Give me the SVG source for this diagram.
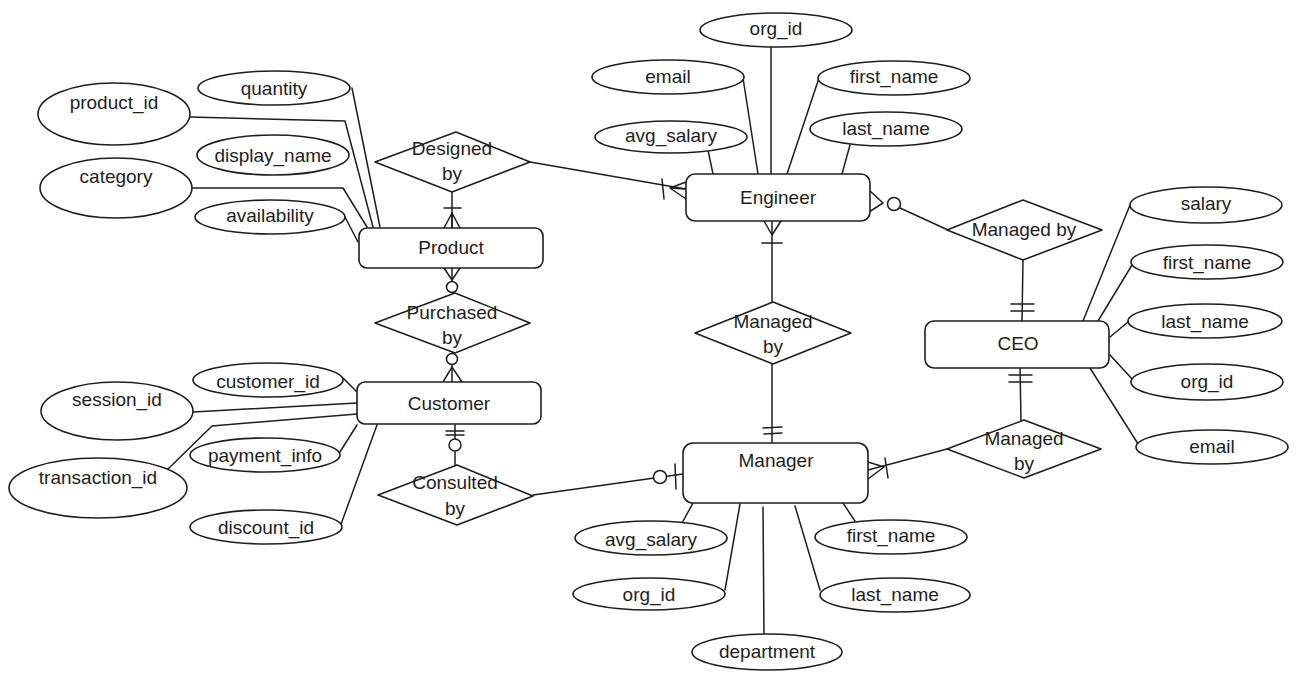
<svg xmlns="http://www.w3.org/2000/svg" width="1299" height="680" viewBox="0 0 1299 680">
<style>
.sh{fill:#fff;stroke:#1e1e1e;stroke-width:1.6;stroke-linejoin:round}
.ln{fill:none;stroke:#1e1e1e;stroke-width:1.5;stroke-linecap:round;stroke-linejoin:round}
.ci{fill:#fff;stroke:#1e1e1e;stroke-width:1.5}
text{font-family:"Liberation Sans",Arial,sans-serif;font-size:19px;fill:#1e1e1e;text-anchor:middle;dominant-baseline:central}
</style>
<rect width="1299" height="680" fill="#fff"/>
<g id="connectors">
<!-- attribute lines: Product -->
<path class="ln" d="M352,88 L380,227"/>
<path class="ln" d="M190,117 L345,121 L373,227"/>
<path class="ln" d="M192,188 L343,188 L367,227"/>
<path class="ln" d="M345,217 L358,242"/>
<!-- Engineer -->
<path class="ln" d="M771,47 L771,174"/>
<path class="ln" d="M743,78 L758,174"/>
<path class="ln" d="M820,75 L787,174"/>
<path class="ln" d="M708,150 L713,174"/>
<path class="ln" d="M850,145 L842,174"/>
<!-- Customer -->
<path class="ln" d="M343,378 L357,392"/>
<path class="ln" d="M193,412 L357,403"/>
<path class="ln" d="M167,470 L212,426 L357,414"/>
<path class="ln" d="M338,455 L357,425"/>
<path class="ln" d="M340,527 L377,425"/>
<!-- Manager -->
<path class="ln" d="M693,503 L682,523"/>
<path class="ln" d="M740,504 L725,590"/>
<path class="ln" d="M763,507 L764,635"/>
<path class="ln" d="M795,506 L820,590"/>
<path class="ln" d="M843,503 L855,521"/>
<!-- CEO -->
<path class="ln" d="M1130,205 L1083,321"/>
<path class="ln" d="M1132,265 L1098,321"/>
<path class="ln" d="M1128,322 L1110,337"/>
<path class="ln" d="M1110,355 L1133,380"/>
<path class="ln" d="M1090,368 L1140,447"/>

<!-- Designed by - Product -->
<path class="ln" d="M452,192 L452,228"/>
<path class="ln" d="M444,208 L461,208"/>
<path class="ln" d="M452,213 L444,228 M452,213 L452,228 M452,213 L460,228"/>
<!-- Designed by - Engineer -->
<path class="ln" d="M530,162 L686,189"/>
<path class="ln" d="M662,179 L664,199"/>
<path class="ln" d="M670,188 L686,182 M670,188 L686,189 M670,188 L686,199"/>
<!-- Product - Purchased by -->
<path class="ln" d="M452,268 L452,293"/>
<path class="ln" d="M444,268 L452,280 M460,268 L452,280"/>
<circle class="ci" cx="452" cy="287" r="5.5"/>
<!-- Purchased by - Customer -->
<path class="ln" d="M452,353 L452,382"/>
<circle class="ci" cx="452" cy="359" r="5.5"/>
<path class="ln" d="M452,367 L443,382 M452,367 L462,382"/>
<!-- Customer - Consulted by -->
<path class="ln" d="M455,425 L455,465"/>
<path class="ln" d="M446,431 L464,431 M446,435 L464,435"/>
<circle class="ci" cx="455" cy="445" r="6"/>
<!-- Consulted by - Manager -->
<path class="ln" d="M533,495 L683,474"/>
<circle class="ci" cx="660" cy="477" r="6.5"/>
<path class="ln" d="M675,464 L676,489"/>
<!-- Engineer - Managed by (middle) -->
<path class="ln" d="M772,221 L772,302"/>
<path class="ln" d="M764,221 L772,235 L781,221"/>
<path class="ln" d="M762,243 L782,243"/>
<!-- Managed by (middle) - Manager -->
<path class="ln" d="M772,364 L772,443"/>
<path class="ln" d="M763,428 L782,427 M764,434 L782,433"/>
<!-- Engineer - Managed by (right) -->
<path class="ln" d="M869,190 L883,203 L869,212"/>
<circle class="ci" cx="894" cy="204" r="6.5"/>
<path class="ln" d="M900,208 L948,230"/>
<!-- Managed by (right) - CEO -->
<path class="ln" d="M1023,259 L1022,321"/>
<path class="ln" d="M1011,304 L1034,304 M1011,311 L1034,311"/>
<!-- CEO - Managed by (lower) -->
<path class="ln" d="M1020,368 L1021,421"/>
<path class="ln" d="M1009,375 L1032,375 M1009,382 L1032,382"/>
<!-- Managed by (lower) - Manager -->
<path class="ln" d="M947,449 L868,470"/>
<path class="ln" d="M868,462 L884,467 L868,479"/>
<path class="ln" d="M885,458 L888,478"/>
</g>

<g id="product"><rect class="sh" x="359" y="228" width="184" height="40" rx="8"/><text x="451" y="247">Product</text></g>
<g id="engineer"><rect class="sh" x="686" y="174" width="184" height="47" rx="9"/><text x="778" y="197">Engineer</text></g>
<g id="customer"><rect class="sh" x="357" y="382" width="184" height="42" rx="8"/><text x="449" y="403">Customer</text></g>
<g id="manager"><rect class="sh" x="683" y="443" width="185" height="60" rx="10"/><text x="776" y="460">Manager</text></g>
<g id="ceo"><rect class="sh" x="925" y="321" width="184" height="47" rx="9"/><text x="1018" y="343">CEO</text></g>

<g id="designed_by"><path class="sh" d="M375,162 L456,132 L530,162 L452,192 Z"/><text x="452" y="148">Designed</text><text x="452" y="173">by</text></g>
<g id="purchased_by"><path class="sh" d="M375,323 L455,293 L530,323 L455,353 Z"/><text x="452" y="312">Purchased</text><text x="452" y="337">by</text></g>
<g id="consulted_by"><path class="sh" d="M378,495 L457,465 L533,496 L457,525 Z"/><text x="455" y="482">Consulted</text><text x="455" y="508">by</text></g>
<g id="managed_by_mid"><path class="sh" d="M695,333 L773,302 L851,333 L773,364 Z"/><text x="773" y="321">Managed</text><text x="773" y="346">by</text></g>
<g id="managed_by_right"><path class="sh" d="M947,230 L1023,200 L1102,230 L1023,260 Z"/><text x="1024" y="229">Managed by</text></g>
<g id="managed_by_lower"><path class="sh" d="M947,449 L1024,420 L1101,449 L1024,478 Z"/><text x="1024" y="438">Managed</text><text x="1024" y="463">by</text></g>

<!-- Product attributes -->
<g id="attr_quantity"><ellipse class="sh" cx="274" cy="88" rx="76" ry="17"/><text x="274" y="88">quantity</text></g>
<g id="attr_product_id"><ellipse class="sh" cx="114" cy="114" rx="76" ry="31"/><text x="114" y="102">product_id</text></g>
<g id="attr_display_name"><ellipse class="sh" cx="273" cy="155" rx="76" ry="20"/><text x="273" y="155">display_name</text></g>
<g id="attr_category"><ellipse class="sh" cx="116" cy="188" rx="76" ry="30"/><text x="116" y="176">category</text></g>
<g id="attr_availability"><ellipse class="sh" cx="270" cy="217" rx="75" ry="17"/><text x="270" y="215">availability</text></g>

<!-- Engineer attributes -->
<g id="attr_eng_org_id"><ellipse class="sh" cx="776" cy="30" rx="76" ry="17"/><text x="776" y="28">org_id</text></g>
<g id="attr_eng_email"><ellipse class="sh" cx="668" cy="77" rx="76" ry="17"/><text x="668" y="76">email</text></g>
<g id="attr_eng_first_name"><ellipse class="sh" cx="894" cy="78" rx="76" ry="17"/><text x="894" y="76">first_name</text></g>
<g id="attr_eng_avg_salary"><ellipse class="sh" cx="671" cy="137" rx="76" ry="16"/><text x="671" y="135">avg_salary</text></g>
<g id="attr_eng_last_name"><ellipse class="sh" cx="886" cy="129" rx="76" ry="17"/><text x="886" y="128">last_name</text></g>

<!-- Customer attributes -->
<g id="attr_customer_id"><ellipse class="sh" cx="268" cy="380" rx="75" ry="17"/><text x="268" y="381">customer_id</text></g>
<g id="attr_session_id"><ellipse class="sh" cx="117" cy="411" rx="76" ry="29"/><text x="117" y="399">session_id</text></g>
<g id="attr_payment_info"><ellipse class="sh" cx="265" cy="455" rx="75" ry="17"/><text x="265" y="455">payment_info</text></g>
<g id="attr_transaction_id"><ellipse class="sh" cx="98" cy="488" rx="89" ry="30"/><text x="98" y="477">transaction_id</text></g>
<g id="attr_discount_id"><ellipse class="sh" cx="266" cy="527" rx="76" ry="17"/><text x="266" y="527">discount_id</text></g>

<!-- Manager attributes -->
<g id="attr_mgr_avg_salary"><ellipse class="sh" cx="651" cy="538" rx="76" ry="17"/><text x="651" y="539">avg_salary</text></g>
<g id="attr_mgr_org_id"><ellipse class="sh" cx="649" cy="594" rx="76" ry="16"/><text x="649" y="594">org_id</text></g>
<g id="attr_mgr_department"><ellipse class="sh" cx="767" cy="652" rx="75" ry="18"/><text x="767" y="651">department</text></g>
<g id="attr_mgr_first_name"><ellipse class="sh" cx="891" cy="537" rx="76" ry="17"/><text x="891" y="535">first_name</text></g>
<g id="attr_mgr_last_name"><ellipse class="sh" cx="895" cy="595" rx="75" ry="17"/><text x="895" y="594">last_name</text></g>

<!-- CEO attributes -->
<g id="attr_ceo_salary"><ellipse class="sh" cx="1206" cy="205" rx="76" ry="18"/><text x="1206" y="203">salary</text></g>
<g id="attr_ceo_first_name"><ellipse class="sh" cx="1207" cy="262" rx="76" ry="17"/><text x="1207" y="262">first_name</text></g>
<g id="attr_ceo_last_name"><ellipse class="sh" cx="1205" cy="321" rx="77" ry="17"/><text x="1205" y="321">last_name</text></g>
<g id="attr_ceo_org_id"><ellipse class="sh" cx="1207" cy="382" rx="76" ry="18"/><text x="1207" y="381">org_id</text></g>
<g id="attr_ceo_email"><ellipse class="sh" cx="1212" cy="447" rx="76" ry="17"/><text x="1212" y="446">email</text></g>
</svg>
